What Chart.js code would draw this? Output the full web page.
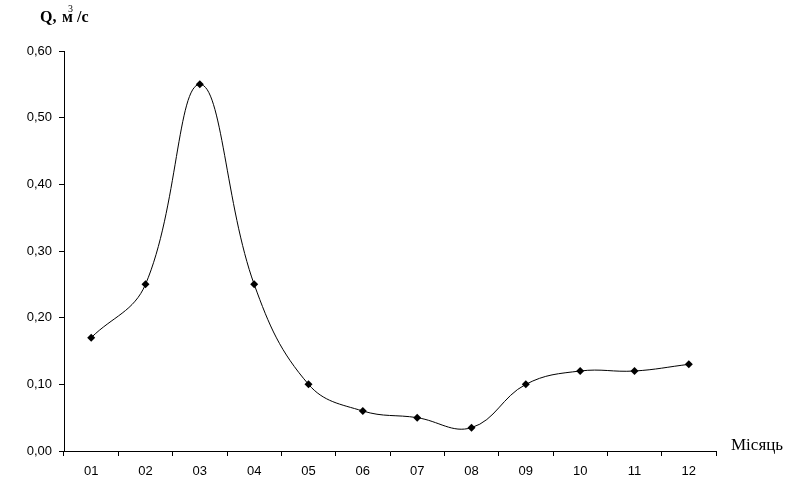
<!DOCTYPE html>
<html>
<head>
<meta charset="utf-8">
<script src="https://cdn.jsdelivr.net/npm/chart.js@4/dist/chart.umd.min.js"></script>
<style>
  html, body { margin: 0; padding: 0; background: #fff; }
  #wrap { width: 791px; height: 498px; position: relative; }
</style>
</head>
<body>
<div id="wrap"><canvas id="flowChart"></canvas></div>
<script>
const months = ["01", "02", "03", "04", "05", "06", "07", "08", "09", "10", "11", "12"];
const flowValues = [0.17, 0.25, 0.55, 0.25, 0.10, 0.06, 0.05, 0.035, 0.10, 0.12, 0.12, 0.13];
const yMin = 0;
const yMax = 0.6;
const yStep = 0.1;

const axisTitles = {
  id: "axisTitles",
  afterDraw(chart) {
    const ctx = chart.ctx;
    const area = chart.chartArea;
    ctx.save();
    ctx.fillStyle = "#000";
    ctx.textBaseline = "alphabetic";
    ctx.textAlign = "left";

    // y axis title: Q, м³/c (pieces spaced like the original)
    const serifBold = "bold 16px 'Liberation Serif', 'Times New Roman', serif";
    ctx.font = serifBold;
    ctx.fillText("Q,", 40, 22);
    ctx.fillText("м", 62, 22);
    ctx.font = "10px 'Liberation Serif', serif";
    ctx.fillText("3", 68, 12);
    ctx.font = serifBold;
    ctx.fillText("/c", 77, 22);

    // x axis title
    ctx.font = "17px 'Liberation Serif', 'Times New Roman', serif";
    ctx.fillText("Місяць", area.right + 15, area.bottom - 1);
    ctx.restore();
  }
};

new Chart(document.getElementById("flowChart"), {
  type: "line",
  data: {
    labels: months,
    datasets: [
      {
        data: flowValues,
        borderColor: "#000",
        borderWidth: 1,
        backgroundColor: "#000",
        pointStyle: "rectRot",
        pointRadius: 4,
        pointBorderWidth: 0,
        tension: 0.4,
        fill: false
      }
    ]
  },
  options: {
    responsive: true,
    maintainAspectRatio: false,
    animation: false,
    layout: { padding: { top: 51, right: 75, left: 0, bottom: 0 } },
    plugins: {
      legend: { display: false },
      tooltip: { enabled: false }
    },
    scales: {
      x: {
        offset: true,
        grid: {
          offset: true,
          drawOnChartArea: false,
          drawTicks: true,
          tickLength: 5,
          color: "#000"
        },
        border: { display: true, color: "#000", width: 1 },
        ticks: {
          color: "#000",
          padding: 8,
          maxRotation: 0,
          font: { family: "'Liberation Sans', Arial, sans-serif", size: 13 }
        },
        afterFit(scale) { scale.height = 47; }
      },
      y: {
        min: yMin,
        max: yMax,
        grid: {
          drawOnChartArea: false,
          drawTicks: true,
          tickLength: 5,
          color: "#000"
        },
        border: { display: true, color: "#000", width: 1 },
        ticks: {
          stepSize: yStep,
          color: "#000",
          padding: 7,
          font: { family: "'Liberation Sans', Arial, sans-serif", size: 13 },
          callback: (v) => v.toFixed(2).replace(".", ",")
        },
        afterFit(scale) { scale.width = 64; }
      }
    }
  },
  plugins: [axisTitles]
});
</script>
</body>
</html>
